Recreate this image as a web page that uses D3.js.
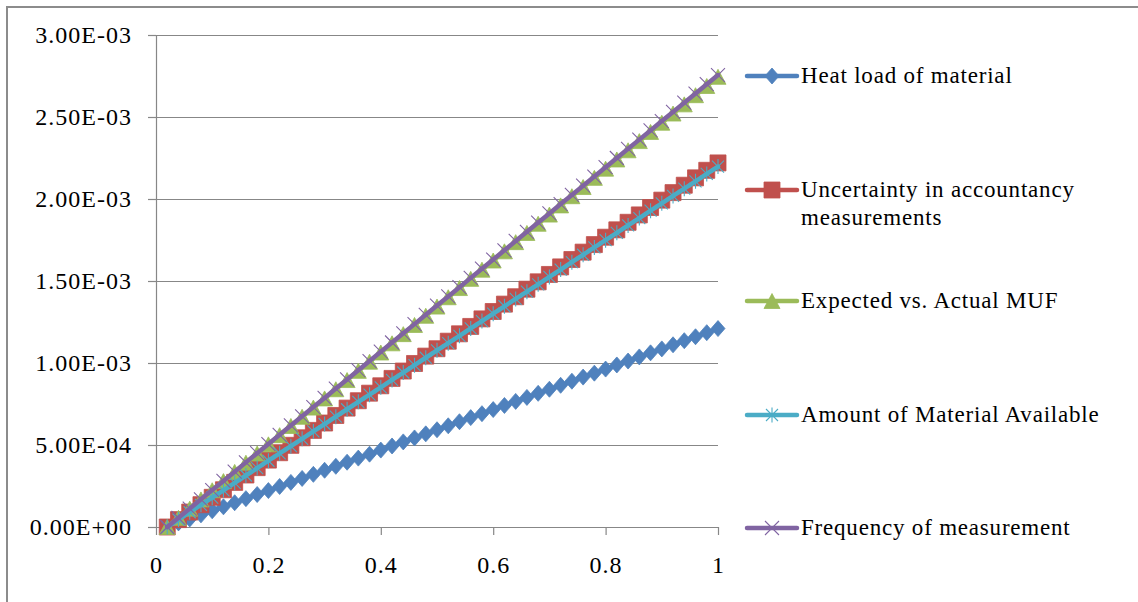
<!DOCTYPE html>
<html><head><meta charset="utf-8">
<script src="https://cdn.jsdelivr.net/npm/d3@7"></script>
<style>body{margin:0;background:#fff} svg{display:block}</style>
</head><body><svg id="c" width="1138" height="602"></svg>
<script>
// ---------- data (values in units of 1e-3) ----------
const UNIT = 1e-3;
const xValues = [0.02,0.04,0.06,0.08,0.10,0.12,0.14,0.16,0.18,0.20,
  0.22,0.24,0.26,0.28,0.30,0.32,0.34,0.36,0.38,0.40,
  0.42,0.44,0.46,0.48,0.50,0.52,0.54,0.56,0.58,0.60,
  0.62,0.64,0.66,0.68,0.70,0.72,0.74,0.76,0.78,0.80,
  0.82,0.84,0.86,0.88,0.90,0.92,0.94,0.96,0.98,1.00];
const heatLoad = [0,0.025,0.049,0.074,0.099,0.123,0.148,0.173,0.198,0.222,
  0.247,0.272,0.296,0.321,0.346,0.370,0.395,0.420,0.444,0.469,
  0.494,0.519,0.543,0.568,0.593,0.617,0.642,0.667,0.691,0.716,
  0.741,0.766,0.790,0.815,0.840,0.864,0.889,0.914,0.938,0.963,
  0.988,1.012,1.037,1.062,1.086,1.111,1.136,1.160,1.185,1.210];
const uncertainty = [0,0.045,0.091,0.136,0.181,0.227,0.272,0.317,0.362,0.408,
  0.453,0.498,0.544,0.589,0.634,0.680,0.725,0.770,0.816,0.861,
  0.906,0.951,0.997,1.042,1.087,1.133,1.178,1.223,1.269,1.314,
  1.359,1.404,1.450,1.495,1.540,1.586,1.631,1.676,1.722,1.767,
  1.812,1.858,1.903,1.948,1.993,2.039,2.084,2.129,2.175,2.220];
const expectedMUF = [0,0.056,0.112,0.168,0.224,0.280,0.336,0.392,0.448,0.504,
  0.560,0.616,0.672,0.728,0.784,0.840,0.896,0.952,1.008,1.064,
  1.120,1.176,1.232,1.288,1.344,1.401,1.457,1.513,1.569,1.625,
  1.681,1.737,1.793,1.849,1.905,1.961,2.017,2.073,2.129,2.185,
  2.241,2.297,2.353,2.409,2.465,2.521,2.577,2.633,2.689,2.745];
const materialAvailable = [0,0.045,0.090,0.135,0.179,0.224,0.269,0.314,0.359,0.404,
  0.449,0.493,0.538,0.583,0.628,0.673,0.718,0.763,0.807,0.852,
  0.897,0.942,0.987,1.032,1.077,1.121,1.166,1.211,1.256,1.301,
  1.346,1.391,1.435,1.480,1.525,1.570,1.615,1.660,1.705,1.749,
  1.794,1.839,1.884,1.929,1.974,2.019,2.063,2.108,2.153,2.198];
const frequency = [0,0.056,0.112,0.169,0.225,0.281,0.337,0.394,0.450,0.506,
  0.562,0.619,0.675,0.731,0.787,0.844,0.900,0.956,1.012,1.069,
  1.125,1.181,1.237,1.294,1.350,1.406,1.462,1.519,1.575,1.631,
  1.687,1.744,1.800,1.856,1.912,1.969,2.025,2.081,2.137,2.194,
  2.250,2.306,2.362,2.418,2.475,2.531,2.587,2.643,2.700,2.756];

const seriesNames = [["Heat load of material"],["Uncertainty in accountancy","measurements"],
  ["Expected vs. Actual MUF"],["Amount of Material Available"],["Frequency of measurement"]];
const seriesValues = [heatLoad, uncertainty, expectedMUF, materialAvailable, frequency];
const seriesColors = ["#4F81BD","#C0504D","#9BBB59","#4BACC6","#8064A2"];
const seriesMarkers = ["diamond","square","triangle","asterisk","x"];

const yTickValues = [0,0.0005,0.001,0.0015,0.002,0.0025,0.003];
const yTickLabels = ["0.00E+00","5.00E-04","1.00E-03","1.50E-03","2.00E-03","2.50E-03","3.00E-03"];
const xTickValues = [0,0.2,0.4,0.6,0.8,1];
const xTickLabels = ["0","0.2","0.4","0.6","0.8","1"];

// ---------- layout ----------
const FONT = "'Liberation Serif','Times New Roman',serif";
const svg = d3.select("#c");
const plot = {left:156, right:718, top:35, bottom:527};
const x = d3.scaleLinear().domain([0,1]).range([plot.left, plot.right]);
const y = d3.scaleLinear().domain([0,0.003]).range([plot.bottom, plot.top]);

// chart border
svg.append("path").attr("d","M7,602V7H1138").attr("fill","none").attr("stroke","#8c8c8c").attr("stroke-width",2);

// gridlines
const grid = svg.append("g").attr("transform",`translate(${plot.left},0)`)
  .call(d3.axisLeft(y).tickValues(yTickValues).tickSize(-(plot.right-plot.left)).tickFormat(""));
grid.select(".domain").remove();
grid.selectAll("line").attr("stroke","#878787").attr("stroke-width",1.2);

// y axis
const ya = svg.append("g").attr("transform",`translate(${plot.left},0)`)
  .call(d3.axisLeft(y).tickValues(yTickValues).tickSize(8).tickSizeOuter(0).tickPadding(16)
    .tickFormat((d,i)=>yTickLabels[i]));
ya.select(".domain").attr("stroke","#878787").attr("stroke-width",1.2);
ya.selectAll("line").attr("stroke","#878787").attr("stroke-width",1.2);
ya.selectAll("text").attr("font-family",FONT).attr("font-size",24).attr("letter-spacing",1).attr("fill","#000");

// x axis
const xa = svg.append("g").attr("transform",`translate(0,${plot.bottom})`)
  .call(d3.axisBottom(x).tickValues(xTickValues).tickSize(8).tickSizeOuter(0).tickPadding(21)
    .tickFormat((d,i)=>xTickLabels[i]));
xa.select(".domain").attr("stroke","#878787").attr("stroke-width",1.2);
xa.selectAll("line").attr("stroke","#878787").attr("stroke-width",1.2);
xa.selectAll("text").attr("font-family",FONT).attr("font-size",24).attr("letter-spacing",1).attr("fill","#000");

// marker shapes
function markerPath(type){
  switch(type){
    case "diamond": return "M0,-8L7,0L0,8L-7,0Z";
    case "square": return "M-8,-8H8V8H-8Z";
    case "triangle": return "M0,-7.5L8,7.5H-8Z";
    case "asterisk": return "M-6,-6L6,6M-6,6L6,-6M0,-7.5V7.5";
    case "x": return "M-7,-7L7,7M-7,7L7,-7";
  }
}
function drawMarker(g, type, color, px, py){
  const filled = (type==="diamond"||type==="square"||type==="triangle");
  g.append("path").attr("d", markerPath(type)).attr("transform",`translate(${px},${py})`)
    .attr("fill", filled ? color : "none")
    .attr("stroke", color).attr("stroke-width", filled ? 0.8 : 1.1);
}

const line = d3.line().x(d=>x(d[0])).y(d=>y(d[1]*UNIT));
seriesValues.forEach((vals,si)=>{
  const pts = xValues.map((xv,i)=>[xv, vals[i]]);
  const g = svg.append("g");
  g.append("path").datum(pts).attr("d", line).attr("fill","none")
    .attr("stroke", seriesColors[si]).attr("stroke-width",4.5).attr("stroke-linejoin","round").attr("stroke-linecap","round");
  pts.forEach(p=>drawMarker(g, seriesMarkers[si], seriesColors[si], x(p[0]), y(p[1]*UNIT)));
});

// legend
const legendY = [76, 190, 301, 415, 528];
seriesNames.forEach((lines,si)=>{
  const g = svg.append("g");
  const ly = legendY[si];
  g.append("line").attr("x1",747).attr("x2",797).attr("y1",ly).attr("y2",ly)
    .attr("stroke",seriesColors[si]).attr("stroke-width",4.5).attr("stroke-linecap","round");
  drawMarker(g, seriesMarkers[si], seriesColors[si], 772, ly);
  const t = g.append("text").attr("x",801).attr("y",ly+7)
    .attr("font-family",FONT).attr("font-size",23).attr("letter-spacing",0.8).attr("fill","#000");
  lines.forEach((s,k)=>t.append("tspan").attr("x",801).attr("dy", k===0?0:28).text(s));
});
</script></body></html>
